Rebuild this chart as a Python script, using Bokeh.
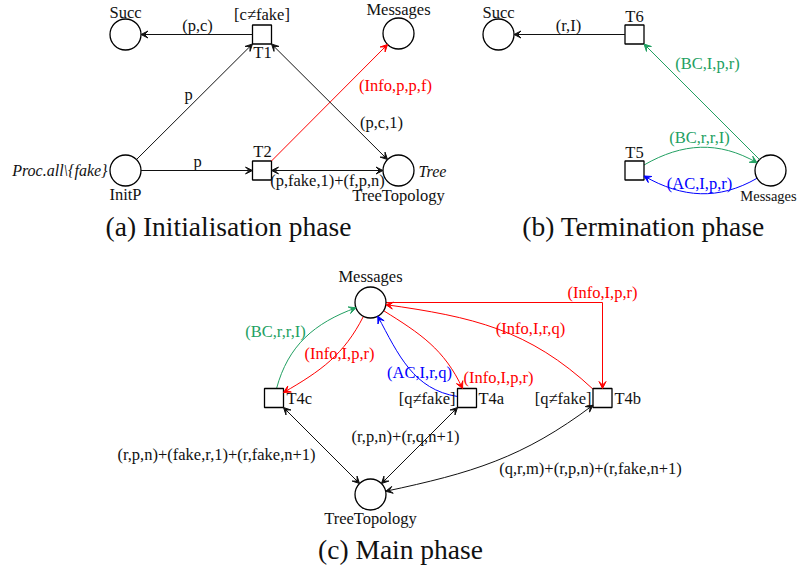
import math
from bokeh.plotting import figure
from bokeh.models import Range1d, Arrow, VeeHead, ColumnDataSource
from bokeh.core.properties import value
from bokeh.embed import file_html
from bokeh.resources import INLINE

FONT = "Liberation Serif"
RED = "#ff0000"
GREEN = "#22a062"
BLUE = "#0000ff"
BLACK = "#111111"

# ---------------- nodes (places = circles, transitions = squares) -------------
place_names = ["Succ_a", "Msg_a", "InitP", "Tree_a", "Succ_b", "Msg_b", "Msg_c", "Tree_c"]
place_x = [125, 398, 125, 398, 498, 770, 370, 370]
place_y = [34, 33, 170, 170, 34, 170, 302, 494]
trans_names = ["T1", "T2", "T6", "T5", "T4c", "T4a", "T4b"]
trans_x = [261.5, 261.5, 634, 634, 273.5, 466.5, 602]
trans_y = [34, 170, 34, 170, 397.5, 397.5, 397.5]
R_PLACE = 15.5
H_TRANS = 9.5

nodes = {}
for n, x, y in zip(place_names, place_x, place_y):
    nodes[n] = ("p", x, y)
for n, x, y in zip(trans_names, trans_x, trans_y):
    nodes[n] = ("t", x, y)

# ---------------- arcs ----------------
straight_arcs = [
    ("T1", "Succ_a", BLACK, False),
    ("InitP", "T1", BLACK, False),
    ("InitP", "T2", BLACK, False),
    ("T2", "Msg_a", RED, False),
    ("T1", "Tree_a", BLACK, True),
    ("T2", "Tree_a", BLACK, True),
    ("T6", "Succ_b", BLACK, False),
    ("Msg_b", "T6", GREEN, False),
    ("T4c", "Tree_c", BLACK, True),
    ("T4a", "Tree_c", BLACK, True),
]
curved_arcs = [
    ("T5", "Msg_b", -30, 210, GREEN, False),
    ("Msg_b", "T5", 150, 30, BLUE, False),
    ("T4c", "Msg_c", -75, 160, GREEN, False),
    ("Msg_c", "T4c", 117, -30, RED, False),
    ("Msg_c", "T4a", 32, -115, RED, False),
    ("T4a", "Msg_c", -171, 62, BLUE, False),
    ("T4b", "Msg_c", -137, 8, RED, False),
    ("T4b", "Tree_c", 143, -12, BLACK, True),
]
ortho_arcs = [("Msg_c", "T4b", RED)]

# ---------------- labels ----------------
lab_text = ["Succ", "[c\u2260fake]", "T1", "Messages", "(p,c)", "p", "p", "(Info,p,p,f)",
            "(p,c,1)", "T2", "InitP", "(p,fake,1)+(f,p,n)", "TreeTopology",
            "Succ", "T6", "(r,I)", "(BC,I,p,r)", "(BC,r,r,I)", "T5", "(AC,I,p,r)", "Messages",
            "Messages", "(Info,I,p,r)", "(BC,r,r,I)", "(Info,I,r,q)", "(Info,I,p,r)",
            "(AC,I,r,q)", "(Info,I,p,r)", "T4c", "[q\u2260fake]", "T4a", "[q\u2260fake]", "T4b",
            "(r,p,n)+(r,q,n+1)", "(r,p,n)+(fake,r,1)+(r,fake,n+1)",
            "(q,r,m)+(r,p,n)+(r,fake,n+1)", "TreeTopology"]
lab_x = [125, 261.5, 262, 398, 197, 188, 197, 395,
         381, 262, 125, 327, 398,
         498, 634, 568, 707, 699, 634, 699, 768,
         370, 602, 275, 530, 339,
         419, 498, 286, 455, 478, 591, 614,
         405, 216,
         590, 370]
lab_y = [12, 14, 52, 9, 25, 94, 161, 85,
         122, 151, 194, 180, 195,
         12, 16, 25, 63, 137, 152, 183, 195,
         276, 292, 331, 328, 353,
         372, 377, 398, 398, 398, 398, 398,
         436, 454,
         468, 518]
lab_color = [BLACK, BLACK, BLACK, BLACK, BLACK, BLACK, BLACK, RED,
             BLACK, BLACK, BLACK, BLACK, BLACK,
             BLACK, BLACK, BLACK, GREEN, GREEN, BLACK, BLUE, BLACK,
             BLACK, RED, GREEN, RED, RED,
             BLUE, RED, BLACK, BLACK, BLACK, BLACK, BLACK,
             BLACK, BLACK,
             BLACK, BLACK]
lab_align = ["center"] * 28 + ["left", "right", "left", "right", "left"] + ["center"] * 4
lab_size = ["16.5px"] * len(lab_text)
lab_size[20] = "14.5px"

ital_text = ["Proc.all\\{fake}", "Tree"]
ital_x = [107, 418]
ital_y = [170, 171]
ital_align = ["right", "left"]

cap_text = ["(a) Initialisation phase", "(b) Termination phase", "(c) Main phase"]
cap_x = [228, 643, 400]
cap_y = [226, 226, 549]

# ---------------- figure ----------------
W, H = 800, 567
p = figure(width=W, height=H, output_backend="svg", toolbar_location=None,
           x_range=Range1d(0, W), y_range=Range1d(H, 0), min_border=0,
           x_axis_location=None, y_axis_location=None)
p.grid.visible = False
p.outline_line_color = None
p.background_fill_color = "white"
p.border_fill_color = "white"


def boundary(name, ang):
    kind, x, y = nodes[name]
    a = math.radians(ang)
    c, s = math.cos(a), math.sin(a)
    if kind == "p":
        return x + R_PLACE * c, y + R_PLACE * s
    t = H_TRANS / max(abs(c), abs(s))
    return x + t * c, y + t * s


def head(color):
    return VeeHead(size=7, line_color=color, fill_color=color, line_width=1)


def head_at(x, y, ux, uy, color):
    p.add_layout(Arrow(end=head(color), x_start=x - ux * 1.5, y_start=y - uy * 1.5,
                       x_end=x, y_end=y, line_color=color, line_width=1))


for a, b, col, both in straight_arcs:
    _, xa, ya = nodes[a]
    _, xb, yb = nodes[b]
    th = math.degrees(math.atan2(yb - ya, xb - xa))
    x0, y0 = boundary(a, th)
    x1, y1 = boundary(b, th + 180)
    p.add_layout(Arrow(start=head(col) if both else None, end=head(col),
                       x_start=x0, y_start=y0, x_end=x1, y_end=y1,
                       line_color=col, line_width=1))

for a, b, ao, ai, col, both in curved_arcs:
    x0, y0 = boundary(a, ao)
    x3, y3 = boundary(b, ai)
    d = 0.3915 * math.hypot(x3 - x0, y3 - y0)
    x1 = x0 + d * math.cos(math.radians(ao))
    y1 = y0 + d * math.sin(math.radians(ao))
    x2 = x3 + d * math.cos(math.radians(ai))
    y2 = y3 + d * math.sin(math.radians(ai))
    p.bezier(x0=[x0], y0=[y0], x1=[x3], y1=[y3], cx0=[x1], cy0=[y1], cx1=[x2], cy1=[y2],
             line_color=col, line_width=1)
    L = math.hypot(x3 - x2, y3 - y2)
    head_at(x3, y3, (x3 - x2) / L, (y3 - y2) / L, col)
    if both:
        L = math.hypot(x0 - x1, y0 - y1)
        head_at(x0, y0, (x0 - x1) / L, (y0 - y1) / L, col)

for a, b, col in ortho_arcs:
    _, xa, ya = nodes[a]
    _, xb, yb = nodes[b]
    x0, y0 = boundary(a, 0)
    x1, y1 = boundary(b, -90)
    p.line(x=[x0, xb, xb], y=[y0, ya, ya], line_color=col, line_width=1)
    p.add_layout(Arrow(end=head(col), x_start=xb, y_start=ya, x_end=x1, y_end=y1,
                       line_color=col, line_width=1))

p.scatter(x=place_x, y=place_y, marker="circle", size=2 * R_PLACE,
          fill_color="white", line_color="black", line_width=1.3)
p.scatter(x=trans_x, y=trans_y, marker="square", size=2 * H_TRANS,
          fill_color="white", line_color="black", line_width=1.3)

src = ColumnDataSource(dict(x=lab_x, y=lab_y, text=lab_text, color=lab_color,
                            align=lab_align, size=lab_size))
p.text(x="x", y="y", text="text", text_color="color", text_align="align",
       text_baseline="middle", text_font=value(FONT), text_font_size="size", source=src)

isrc = ColumnDataSource(dict(x=ital_x, y=ital_y, text=ital_text, align=ital_align))
p.text(x="x", y="y", text="text", text_align="align", text_color=BLACK,
       text_baseline="middle", text_font=value(FONT), text_font_style="italic",
       text_font_size="16px", source=isrc)

p.text(x=cap_x, y=cap_y, text=cap_text, text_align="center", text_baseline="middle",
       text_font=value(FONT), text_font_size="27.5px", text_color=BLACK)

open("out.html", "w").write(file_html(p, INLINE))
